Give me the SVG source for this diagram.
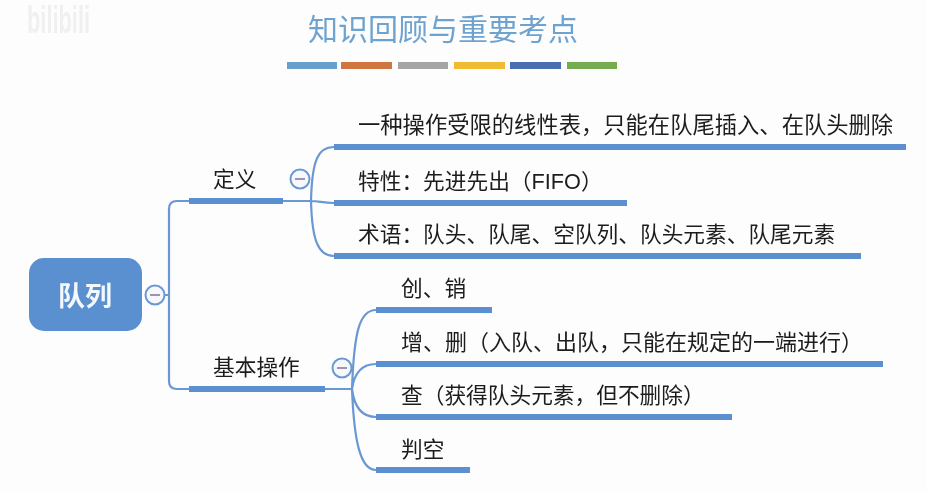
<svg xmlns="http://www.w3.org/2000/svg" width="927" height="492" viewBox="0 0 927 492">
<defs>
<style>
text{font-family:"Liberation Sans","Noto Sans CJK SC",sans-serif;fill:#1c1c1c}
.t{font-size:21.7px}
.bar{fill:#5b8fd0}
.conn{fill:none;stroke:#6a98d2;stroke-width:2.2}
.tog{fill:#f6f8fd;stroke:#6a98d2;stroke-width:2}
.minus{stroke:#9c96ac;stroke-width:2}
#all{filter:url(#soft)}
</style>
<filter id="soft" x="0" y="0" width="100%" height="100%"><feGaussianBlur stdDeviation="0.35"/></filter>
</defs>
<rect width="927" height="492" fill="#fdfdfe"/>
<g id="all">
<text x="27" y="33" textLength="63" lengthAdjust="spacingAndGlyphs" style="font-size:38px;font-weight:bold;fill:#f0f0f0">bilibili</text>
<g id="title">
<text x="443" y="40" text-anchor="middle" style="font-size:30px;fill:#6ea3cf">知识回顾与重要考点</text>
<rect x="287" y="62" width="50" height="7" fill="#6b9fcb"/>
<rect x="341" y="62" width="51" height="7" fill="#cf7440"/>
<rect x="398" y="62" width="50" height="7" fill="#a5a5a5"/>
<rect x="454" y="62" width="51" height="7" fill="#eebb33"/>
<rect x="510" y="62" width="51" height="7" fill="#4a6fae"/>
<rect x="567" y="62" width="50" height="7" fill="#74ac50"/>
</g>
<g id="connectors">
<path class="conn" d="M146 295H169M189 201H177Q169 201 169 209V381Q169 389 177 389H189"/>
<path class="conn" d="M283 201H311M334 147C318 147 312 160 311 201C312 240 318 256 334 256M311 201C320 201 322 203 334 203"/>
<path class="conn" d="M325 389H352M376 310C360 310 354 330 352 389C354 440 360 470 376 470M376 364C360 364 354 375 352 389C354 405 360 417 376 417"/>
</g>
<g id="root">
<rect x="29" y="258" width="113" height="73" rx="15" fill="#5a8fd0"/>
<text x="85" y="306" text-anchor="middle" style="font-size:27px;font-weight:bold;fill:#f4f7fb">队列</text>
<circle class="tog" cx="155" cy="295" r="9.5"/><path class="minus" d="M150 295H160"/>
</g>
<g id="n-def">
<rect class="bar" x="189" y="198" width="94" height="6"/>
<text class="t" x="213" y="187">定义</text>
<circle class="tog" cx="300" cy="179" r="9.5"/><path class="minus" d="M295 179H305"/>
</g>
<g id="n-ops">
<rect class="bar" x="189" y="386" width="136" height="6"/>
<text class="t" x="213" y="375">基本操作</text>
<circle class="tog" cx="342" cy="368" r="9.5"/><path class="minus" d="M337 368H347"/>
</g>
<g id="n-d1">
<rect class="bar" x="334" y="144" width="572" height="6"/>
<text class="t" x="358" y="133" style="font-size:22.3px">一种操作受限的线性表，只能在队尾插入、在队头删除</text>
</g>
<g id="n-d2">
<rect class="bar" x="334" y="200" width="293" height="6"/>
<text class="t" x="358" y="189">特性：先进先出（FIFO）</text>
</g>
<g id="n-d3">
<rect class="bar" x="334" y="253" width="527" height="6"/>
<text class="t" x="358" y="242">术语：队头、队尾、空队列、队头元素、队尾元素</text>
</g>
<g id="n-o1">
<rect class="bar" x="376" y="307" width="116" height="6"/>
<text class="t" x="401" y="296">创、销</text>
</g>
<g id="n-o2">
<rect class="bar" x="376" y="361" width="507" height="6"/>
<text class="t" x="401" y="350" style="font-size:22px">增、删（入队、出队，只能在规定的一端进行）</text>
</g>
<g id="n-o3">
<rect class="bar" x="376" y="414" width="356" height="6"/>
<text class="t" x="401" y="403">查（获得队头元素，但不删除）</text>
</g>
<g id="n-o4">
<rect class="bar" x="376" y="467" width="94" height="6"/>
<text class="t" x="401" y="457">判空</text>
</g>
</g>
</svg>
